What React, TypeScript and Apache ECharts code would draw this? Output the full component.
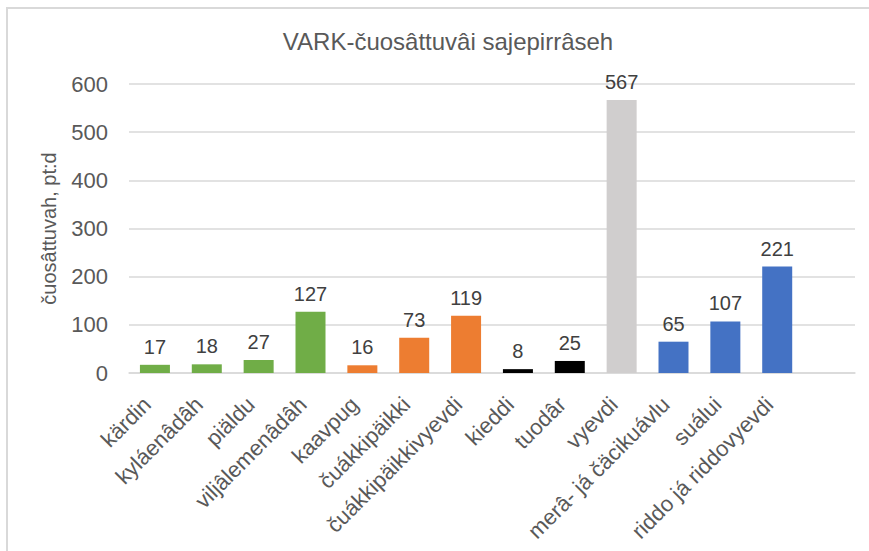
import React, { useEffect, useRef } from "react";
import * as echarts from "echarts";

const categories = [
  "kärdin",
  "kyláenâdâh",
  "piäldu",
  "viljâlemenâdâh",
  "kaavpug",
  "čuákkipäikki",
  "čuákkipäikkivyevdi",
  "kieddi",
  "tuodâr",
  "vyevdi",
  "merâ- já čäcikuávlu",
  "suálui",
  "riddo já riddovyevdi",
  "",
];
const values = [17, 18, 27, 127, 16, 73, 119, 8, 25, 567, 65, 107, 221, null];
const barColors = [
  "#70AD47", "#70AD47", "#70AD47", "#70AD47",
  "#ED7D31", "#ED7D31", "#ED7D31",
  "#000000", "#000000",
  "#D0CECE",
  "#4472C4", "#4472C4", "#4472C4",
  "#4472C4",
];
const yTicks = { min: 0, max: 600, interval: 100 };
const titleText = "VARK-čuosâttuvâi sajepirrâseh";
const yAxisName = "čuosâttuvah, pt:d";

export default function App() {
  const ref = useRef<HTMLDivElement>(null);
  useEffect(() => {
    document.body.style.margin = "0";
    const chart = echarts.init(ref.current!, null, { renderer: "svg" });
    const font = "Liberation Sans, Arial, sans-serif";
    chart.setOption({
      animation: false,
      backgroundColor: "#ffffff",
      textStyle: { fontFamily: font },
      title: {
        text: titleText,
        left: 443,
        top: 24,
        textAlign: "center",
        textStyle: { fontFamily: font, fontSize: 24, fontWeight: "normal", color: "#595959" },
      },
      graphic: [
        {
          type: "rect",
          shape: { x: 7, y: 8, width: 900, height: 600 },
          style: { fill: "none", stroke: "#D9D9D9", lineWidth: 2 },
          silent: true,
          z: -1,
        },
      ],
      grid: { left: 129, right: 14, top: 84, bottom: 178, containLabel: false },
      xAxis: {
        type: "category",
        data: categories,
        axisLine: { lineStyle: { color: "#D9D9D9", width: 1.5 } },
        axisTick: { show: false },
        axisLabel: {
          interval: 0,
          rotate: 45,
          margin: 20,
          padding: [0, 11, 0, 0],
          fontSize: 22,
          color: "#595959",
          fontFamily: font,
        },
      },
      yAxis: {
        type: "value",
        ...yTicks,
        name: yAxisName,
        nameLocation: "middle",
        nameGap: 70,
        nameTextStyle: { fontSize: 20, color: "#595959", fontFamily: font },
        axisLine: { show: false },
        axisTick: { show: false },
        axisLabel: { fontSize: 22, color: "#595959", margin: 21, fontFamily: font },
        splitLine: { lineStyle: { color: "#D9D9D9", width: 1.5 } },
      },
      series: [
        {
          type: "bar",
          barWidth: 30,
          data: values.map((v, i) => ({ value: v, itemStyle: { color: barColors[i] } })),
          label: {
            show: true,
            position: "top",
            distance: 8,
            fontSize: 20,
            color: "#404040",
            fontFamily: font,
          },
        },
      ],
    });
    return () => chart.dispose();
  }, []);
  return <div ref={ref} style={{ width: 869, height: 551 }} />;
}
